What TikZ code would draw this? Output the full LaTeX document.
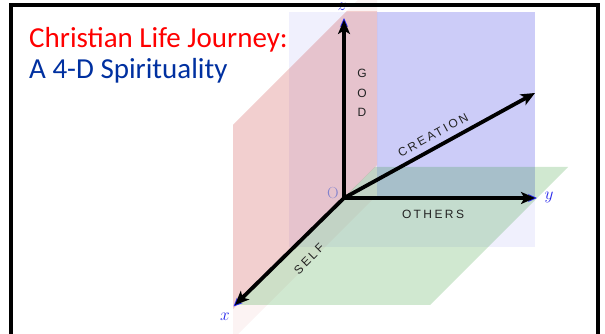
\documentclass[tikz,border=0pt]{standalone}
\usepackage{fontspec}
\newfontfamily\titlefont{Carlito}
\newfontfamily\axisfont[LetterSpace=20]{Liberation Sans}
\usetikzlibrary{arrows.meta}

\definecolor{titlered}{RGB}{255,0,0}
\definecolor{titleblue}{RGB}{0,48,160}
\definecolor{planeblue}{RGB}{0,0,220}
\definecolor{planered}{RGB}{190,20,20}
\definecolor{planegreen}{RGB}{20,140,20}
\definecolor{labelblue}{RGB}{40,40,235}
\definecolor{originpurple}{RGB}{130,130,205}
\definecolor{darktext}{RGB}{35,35,35}

\tikzset{
  axisline/.style={line width=3.8pt,-{Stealth[length=14pt,width=12pt,inset=3.5pt]}},
  bluehint/.style={labelblue,line width=1pt,-{Stealth[length=9pt,width=8pt]}},
  axisword/.style={font={\axisfont\fontsize{12}{19.5}\selectfont},text=darktext,inner sep=0pt},
  axisletter/.style={font={\fontsize{16}{16}\selectfont},text=labelblue,inner sep=0pt},
  titletext/.style={anchor=base west,inner sep=0pt,font={\titlefont\fontsize{29}{29}\selectfont}}
}

\begin{document}
\begin{tikzpicture}[x=1pt,y=1pt]
    \useasboundingbox (0,0) rectangle (605,334);
    % planes
    \fill[planeblue,opacity=0.06] (289,87) rectangle (535,322);
    \fill[planeblue,opacity=0.15] (377,136) rectangle (535,322);
    \fill[planered,opacity=0.05] (377,353) -- (233,209) -- (233,-5) -- (377,139) -- cycle;
    \begin{scope}
      \clip (0,0) rectangle (605,322);
      \fill[planered,opacity=0.16] (377,353) -- (233,209) -- (233,25) -- (377,169) -- cycle;
    \end{scope}
    \fill[planegreen,opacity=0.2] (375,167) -- (568,167) -- (430,29) -- (235,29) -- cycle;

    % axes
    \coordinate (O) at (344,136);
    \coordinate (ztip) at (344,314);
    \coordinate (ytip) at (535,136);
    \coordinate (xtip) at (235,29);
    \coordinate (ctip) at (535,241);
    \coordinate (zhint) at (344,316);
    \coordinate (yhint) at (537,136);
    \coordinate (xhint) at (233.5,27.5);
    \draw[bluehint] (O) -- (zhint);
    \draw[bluehint] (O) -- (yhint);
    \draw[bluehint] (O) -- (xhint);
    \draw[axisline] (O) -- (ztip);
    \draw[axisline] (O) -- (ytip);
    \draw[axisline] (O) -- (xtip);
    \draw[axisline] (O) -- (ctip);

    % labels
    \node[axisletter] (zlabel) at (342,327) {$z$};
    \node[axisletter] (ylabel) at (549,137) {$y$};
    \node[axisletter] (xlabel) at (225,17) {$x$};
    \node[inner sep=0pt,text=originpurple,font={\fontsize{16}{16}\selectfont}] (olabel) at (333,141) {O};
    \node[axisword,align=center] (god) at (362,241) {G\\O\\D};
    \node[axisword,rotate=28.8] (creation) at (433,199) {CREATION};
    \node[axisword] (others) at (433,120) {OTHERS};
    \node[axisword,rotate=45] (self) at (309,75) {SELF};

    % title
    \node[titletext,text=titlered] (title) at (29,286) {Christian Life Journey:};
    \node[titletext,text=titleblue] (subtitle) at (29,255) {A 4-D Spirituality};

    % frame
    \draw[line width=3.5pt] (11,-5) |- (598,329) -- (598,-5);
\end{tikzpicture}
\end{document}
